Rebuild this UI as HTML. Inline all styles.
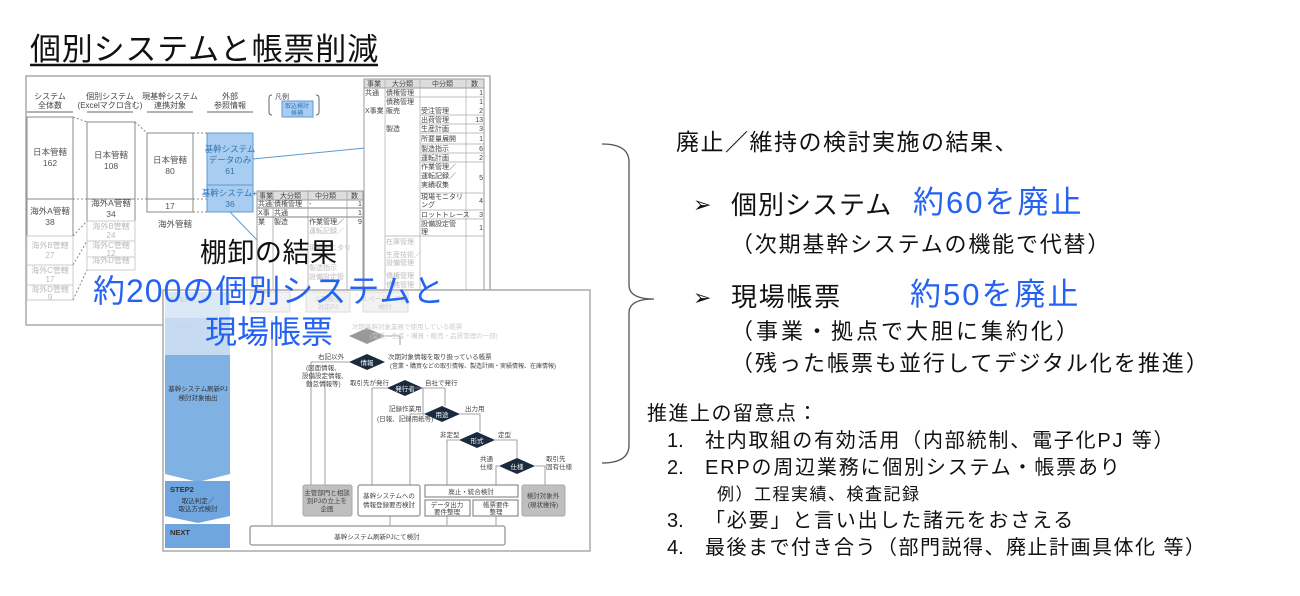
<!DOCTYPE html>
<html><head><meta charset="utf-8"><style>
html,body{margin:0;padding:0;background:#fff;width:1300px;height:596px;overflow:hidden}
svg text{font-family:"Liberation Sans","Noto Sans CJK JP",sans-serif}
</style></head><body>
<svg width="1300" height="596" viewBox="0 0 1300 596" style="position:absolute;left:0;top:0">
<text x="30" y="60" font-size="31" fill="#111" letter-spacing="0.8">個別システムと帳票削減</text>
<line x1="30" y1="65" x2="378" y2="65" stroke="#111" stroke-width="2.5"/>

<rect x="26" y="76" width="464" height="249" fill="#fff" stroke="#aaa" stroke-width="1.5"/>
<g font-size="8" fill="#444" text-anchor="middle">
<text x="50" y="99">システム</text><text x="50" y="108">全体数</text>
<text x="110" y="99">個別システム</text><text x="110" y="108">(Excelマクロ含む)</text>
<text x="170" y="99">現基幹システム</text><text x="170" y="108">連携対象</text>
<text x="230" y="99">外部</text><text x="230" y="108">参照情報</text>
</g>
<g stroke="#666" stroke-width="1"><line x1="27" y1="112" x2="73" y2="112"/><line x1="87" y1="112" x2="133" y2="112"/><line x1="147" y1="112" x2="193" y2="112"/><line x1="207" y1="112" x2="253" y2="112"/></g>
<text x="275" y="99" font-size="7" fill="#444">凡例</text>
<path d="M272 95 q-3 0 -3 3 v14 q0 3 3 3 M316 95 q3 0 3 3 v14 q0 3 -3 3" fill="none" stroke="#666"/>
<rect x="282" y="101" width="31" height="16" fill="#a9cdf0" stroke="#5b9bd5"/>
<text x="297" y="108" font-size="6" fill="#2e75b6" text-anchor="middle">取込検討</text><text x="297" y="115" font-size="6" fill="#2e75b6" text-anchor="middle">候補</text>
<g fill="#fff" stroke="#888">
<rect x="27" y="117" width="46" height="82"/><rect x="27" y="199" width="46" height="37"/><rect x="27" y="236" width="46" height="29" stroke="#ccc"/><rect x="27" y="265" width="46" height="20" stroke="#ccc"/><rect x="27" y="285" width="46" height="15" stroke="#ccc"/>
<rect x="87" y="122" width="48" height="77"/><rect x="87" y="199" width="48" height="22"/><rect x="87" y="221" width="48" height="20" stroke="#ccc"/><rect x="87" y="241" width="48" height="16" stroke="#ccc"/><rect x="87" y="257" width="48" height="13" stroke="#ccc"/>
<rect x="147" y="133" width="46" height="66"/><rect x="147" y="199" width="46" height="13"/>
</g>
<rect x="207" y="133" width="46" height="52" fill="#a9cdf0" stroke="#5b9bd5"/><rect x="207" y="185" width="46" height="27" fill="#a9cdf0" stroke="#5b9bd5"/>
<g stroke="#888" stroke-dasharray="2,2" fill="none"><path d="M73 117 L87 122 M135 122 L147 133 M193 133 L207 133 M73 199 H207 M193 212 H207 M73 236 L87 221 M73 300 L87 270 M73 265 L87 241"/></g>
<g font-size="8.5" fill="#555" text-anchor="middle">
<text x="50" y="155">日本管轄</text><text x="50" y="166">162</text>
<text x="50" y="214">海外A管轄</text><text x="50" y="225">38</text>
<text x="111" y="158">日本管轄</text><text x="111" y="169">108</text>
<text x="111" y="206">海外A管轄</text><text x="111" y="217">34</text>
<text x="170" y="163">日本管轄</text><text x="170" y="174">80</text>
<text x="170" y="209">17</text><text x="175" y="227">海外管轄</text>
</g>
<g font-size="8" fill="#bbb" text-anchor="middle">
<text x="50" y="248">海外B管轄</text><text x="50" y="258">27</text><text x="50" y="273">海外C管轄</text><text x="50" y="282">17</text><text x="50" y="292">海外D管轄</text><text x="50" y="300">9</text>
<text x="111" y="229">海外B管轄</text><text x="111" y="238">24</text><text x="111" y="248">海外C管轄</text><text x="111" y="256">12</text><text x="111" y="263">海外D管轄</text>
</g>
<g font-size="8.5" fill="#2e75b6" text-anchor="middle"><text x="230" y="152">基幹システム</text><text x="230" y="163">データのみ</text><text x="230" y="174">61</text><text x="232" y="196">基幹システム+α</text><text x="230" y="207">36</text></g>
<line x1="253" y1="159" x2="365" y2="148" stroke="#5b9bd5"/><line x1="230" y1="212" x2="257" y2="240" stroke="#5b9bd5"/>
<rect x="364" y="79" width="120" height="215" fill="#fff" stroke="#999"/>
<rect x="364" y="79" width="120" height="9" fill="#ddd" stroke="#999"/>
<g stroke="#aaa" stroke-width=".7"><line x1="385" y1="79" x2="385" y2="294"/><line x1="420" y1="79" x2="420" y2="294"/><line x1="466" y1="79" x2="466" y2="294"/>
<line x1="385" y1="97" x2="484" y2="97"/><line x1="420" y1="115" x2="484" y2="115"/><line x1="420" y1="124" x2="484" y2="124"/><line x1="420" y1="133" x2="484" y2="133"/><line x1="420" y1="144" x2="484" y2="144"/><line x1="420" y1="153" x2="484" y2="153"/><line x1="420" y1="162" x2="484" y2="162"/><line x1="420" y1="193" x2="484" y2="193"/><line x1="420" y1="210" x2="484" y2="210"/><line x1="420" y1="219" x2="484" y2="219"/><line x1="385" y1="236" x2="484" y2="236"/></g>
<g font-size="7" fill="#444"><text x="367" y="86">事業</text><text x="392" y="86">大分類</text><text x="432" y="86">中分類</text><text x="471" y="86">数</text>
<text x="365" y="95">共通</text><text x="386" y="95">債権管理</text><text x="386" y="104">債務管理</text><text x="365" y="113">X事業</text><text x="386" y="113">販売</text>
<text x="421" y="113">受注管理</text><text x="421" y="122">出荷管理</text><text x="386" y="131">製造</text><text x="421" y="131">生産計画</text><text x="421" y="141">所要量展開</text><text x="421" y="151">製造指示</text><text x="421" y="160">運転計画</text><text x="421" y="169">作業管理／</text><text x="421" y="178">運転記録／</text><text x="421" y="187">実績収集</text><text x="421" y="199">現場モニタリ</text><text x="421" y="207">ング</text><text x="421" y="217">ロットトレース</text><text x="421" y="226">設備設定管</text><text x="421" y="234">理</text></g>
<g font-size="7" fill="#444" text-anchor="end"><text x="483" y="95">1</text><text x="483" y="104">1</text><text x="483" y="113">2</text><text x="483" y="122">13</text><text x="483" y="131">3</text><text x="483" y="141">1</text><text x="483" y="151">6</text><text x="483" y="160">2</text><text x="483" y="180">5</text><text x="483" y="203">4</text><text x="483" y="217">3</text><text x="483" y="230">1</text></g>
<g font-size="7" fill="#bbb"><text x="386" y="244">在庫管理</text><text x="386" y="257">生産技術／</text><text x="386" y="265">設備管理</text><text x="386" y="278">債権管理</text><text x="386" y="287">債務管理</text></g>
<rect x="257" y="191" width="106" height="100" fill="#fff" stroke="#999"/>
<rect x="257" y="191" width="106" height="9" fill="#ddd" stroke="#999"/>
<g stroke="#999" stroke-width=".7"><line x1="273" y1="191" x2="273" y2="291"/><line x1="308" y1="191" x2="308" y2="291"/><line x1="347" y1="191" x2="347" y2="291"/><line x1="257" y1="208" x2="363" y2="208" stroke-width="1.2"/><line x1="257" y1="217" x2="363" y2="217" stroke-width="1.2"/></g>
<g font-size="7" fill="#444"><text x="259" y="198">事業</text><text x="280" y="198">大分類</text><text x="315" y="198">中分類</text><text x="351" y="198">数</text><text x="258" y="206">共通</text><text x="274" y="206">債権管理</text><text x="309" y="206">-</text><text x="258" y="215">X事</text><text x="274" y="215">共通</text><text x="258" y="224">業</text><text x="274" y="224">製造</text><text x="309" y="224">作業管理／</text><text x="358" y="206">1</text><text x="358" y="215">1</text><text x="358" y="224">9</text></g>
<g font-size="7" fill="#bbb"><text x="309" y="233">運転記録／</text><text x="309" y="250">現場モニタリ</text><text x="309" y="270">製造指示</text><text x="309" y="279">設備設定管</text></g>

<rect x="163" y="290" width="427" height="261" fill="#fff" stroke="#aaa" stroke-width="1.5"/>
<polygon points="165,292 230,292 230,318 165,318" fill="#dbe8f6"/>
<polygon points="165,318 230,318 230,355 165,355" fill="#c6dbf1"/>
<polygon points="165,355 230,355 230,474 198,482 165,474" fill="#7fb1e3"/>
<polygon points="165,481 230,481 230,516 198,523 165,516" fill="#6fa6df"/>
<rect x="165" y="524" width="65" height="24" fill="#6fa6df"/>
<g font-size="7.5" font-weight="bold" fill="#c8d6e6"><text x="170" y="302">STEP0</text><text x="170" y="329">STEP1</text></g>
<g font-size="7.5" font-weight="bold" fill="#333"><text x="170" y="492">STEP2</text><text x="170" y="535">NEXT</text></g>
<g font-size="6.5" fill="#333" text-anchor="middle"><text x="198" y="391">基幹システム刷新PJ</text><text x="198" y="400">検討対象抽出</text><text x="198" y="503">取込判定／</text><text x="198" y="511">取込方式検討</text></g>
<g fill="#f2f2f2" stroke="#ddd"><rect x="250" y="292" width="40" height="20"/><rect x="306" y="292" width="44" height="20"/><rect x="363" y="292" width="45" height="20"/></g>
<g font-size="6.5" fill="#ccc" text-anchor="middle"><text x="328" y="301">2.電帳法</text><text x="328" y="309">対応PJ</text><text x="385" y="301">3.ペーパレス化</text><text x="385" y="309">検討</text></g>
<g stroke="none">
<polygon points="349,336 367,328 385,336 367,344" fill="#999"/>
<polygon points="349,362 367,354 385,362 367,370" fill="#1a2a3f"/>
<polygon points="387,388 405,380 423,388 405,396" fill="#1a2a3f"/>
<polygon points="424,414 442,406 460,414 442,422" fill="#1a2a3f"/>
<polygon points="459,440 477,432 495,440 477,448" fill="#1a2a3f"/>
<polygon points="499,466 517,458 535,466 517,474" fill="#1a2a3f"/>
</g>
<g font-size="6.5" fill="#fff" text-anchor="middle"><text x="367" y="365">情報</text><text x="405" y="391">発行者</text><text x="442" y="417">用途</text><text x="477" y="443">形式</text><text x="517" y="469">仕様</text></g>
<g stroke="#888" fill="none" stroke-width=".8">
<path d="M272 320 V525 M349 362 H311 V485 M325 380 V485 M387 388 H372 V485 M410 388 H423 V414 M424 414 H410 V485"/>
<path d="M423 388 H445 V406 M460 414 H480 V432 M459 440 H447 V485 M495 440 H517 V458 M499 466 H496 V485 M535 466 H545 V485 M385 336 H400 V345"/>
<path d="M390 516 V525 M447 516 V525 M496 516 V525"/>
</g>
<g font-size="6.5" fill="#444">
<text x="318" y="359">右記以外</text><text x="306" y="370">(図面情報、</text><text x="302" y="378">設備設定情報、</text><text x="306" y="386">勤怠情報等)</text>
<text x="388" y="359">次期対象情報を取り扱っている帳票</text><text x="390" y="368" font-size="6">(営業・購買などの取引情報、製造計画・実績情報、在庫情報)</text>
<text x="350" y="385">取引先が発行</text><text x="425" y="385">自社で発行</text>
<text x="389" y="411">記録作業用</text><text x="377" y="421">(日報、記録用紙等)</text><text x="465" y="411">出力用</text>
<text x="440" y="437">非定型</text><text x="498" y="437">定型</text>
<text x="480" y="461">共通</text><text x="480" y="469">仕様</text><text x="546" y="461">取引先</text><text x="546" y="469">固有仕様</text>
</g>
<g font-size="6.5" fill="#ccc"><text x="352" y="329">次期基幹対象業務で使用している帳票</text><text x="370" y="338">(営業・生産・購買・販売・品質管理の一部)</text></g>
<rect x="303" y="485" width="49" height="31" fill="#bfbfbf" stroke="#aaa" rx="2"/>
<rect x="358" y="485" width="62" height="31" fill="#fff" stroke="#777" rx="2"/>
<rect x="425" y="485" width="93" height="12" fill="#fff" stroke="#777"/>
<rect x="425" y="500" width="45" height="16" fill="#fff" stroke="#777"/>
<rect x="473" y="500" width="45" height="16" fill="#fff" stroke="#777"/>
<rect x="522" y="485" width="43" height="31" fill="#bfbfbf" stroke="#aaa" rx="2"/>
<rect x="250" y="526" width="255" height="19" fill="#fff" stroke="#777" rx="2"/>
<g font-size="6.5" fill="#444" text-anchor="middle">
<text x="327" y="495">主管部門と相談</text><text x="327" y="503">別PJの立上を</text><text x="327" y="511">企画</text>
<text x="389" y="498">基幹システムへの</text><text x="389" y="507">情報登録要否検討</text>
<text x="471" y="494">廃止・統合検討</text>
<text x="447" y="507">データ出力</text><text x="447" y="514">要件整理</text><text x="496" y="507">帳票要件</text><text x="496" y="514">整理</text>
<text x="543" y="498">検討対象外</text><text x="543" y="507">(現状維持)</text>
<text x="377" y="539">基幹システム刷新PJにて検討</text>
</g>

<text x="200" y="262" font-size="27" fill="#111" letter-spacing="0.5">棚卸の結果</text>
<text x="93" y="302" font-size="32" fill="#2462f2" letter-spacing="1">約200の個別システムと</text>
<text x="205" y="343" font-size="32" fill="#2462f2">現場帳票</text>

<path d="M602 144 q27 0 27 18 V285 q0 14 25 14 q-25 0 -25 14 V445 q0 18 -27 18" fill="none" stroke="#555" stroke-width="1.3"/>

<text x="676" y="150" font-size="23" fill="#111" letter-spacing="1.5">廃止／維持の検討実施の結果、</text>
<text x="693" y="212" font-size="22" fill="#111">➢</text>
<text x="731" y="214" font-size="26" fill="#111" letter-spacing="1">個別システム</text>
<text x="913" y="213" font-size="31" fill="#2462f2" letter-spacing="2">約60を廃止</text>
<text x="731" y="252" font-size="22" fill="#111" letter-spacing="1.8">（次期基幹システムの機能で代替）</text>
<text x="693" y="305" font-size="22" fill="#111">➢</text>
<text x="731" y="306" font-size="26" fill="#111" letter-spacing="1.7">現場帳票</text>
<text x="910" y="305" font-size="31" fill="#2462f2" letter-spacing="2">約50を廃止</text>
<text x="731" y="339" font-size="22" fill="#111" letter-spacing="3">（事業・拠点で大胆に集約化）</text>
<text x="731" y="371" font-size="22" fill="#111" letter-spacing="2">（残った帳票も並行してデジタル化を推進）</text>
<text x="647" y="420" font-size="20" fill="#111" letter-spacing="1.5">推進上の留意点：</text>
<g font-size="20" fill="#111">
<text x="667" y="447">1.</text><text x="705" y="447" letter-spacing="1.8">社内取組の有効活用（内部統制、電子化PJ 等）</text>
<text x="667" y="474">2.</text><text x="705" y="474" letter-spacing="1.8">ERPの周辺業務に個別システム・帳票あり</text>
<text x="717" y="500" font-size="17" letter-spacing="1.5">例）工程実績、検査記録</text>
<text x="667" y="527">3.</text><text x="705" y="527" letter-spacing="1.8">「必要」と言い出した諸元をおさえる</text>
<text x="667" y="554">4.</text><text x="705" y="554" letter-spacing="1.5">最後まで付き合う（部門説得、廃止計画具体化 等）</text>
</g>
</svg>
</body></html>
